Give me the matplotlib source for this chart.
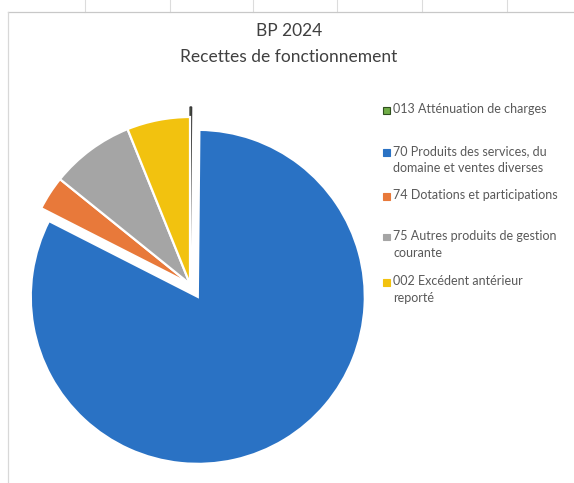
import matplotlib.pyplot as plt
from matplotlib.patches import Rectangle
from matplotlib.lines import Line2D

# BP 2024 - recettes de fonctionnement (parts en %)
labels = ["013 Atténuation de charges",
          "70 Produits des services, du\ndomaine et ventes diverses",
          "74 Dotations et participations",
          "75 Autres produits de gestion\ncourante",
          "002 Excédent antérieur\nreporté"]
values = [0.15, 82.35, 3.3, 8.1, 6.1]
colors = ["#70ad47", "#2a72c4", "#e8793a", "#a5a5a5", "#f2c20f"]
explode = [0.06, 0.09, 0, 0, 0]

plt.rcParams['font.family'] = ['Lato', 'DejaVu Sans']

W, H = 574, 483
fig = plt.figure(figsize=(W / 100, H / 100), dpi=100)
fig.patch.set_facecolor("white")

# spreadsheet frame / grid lines from the scan
for gx in [85, 170, 253, 337, 422, 507]:
    fig.add_artist(Line2D([gx / W, gx / W], [1, 1 - 12 / H], color="#dcdcdc", lw=0.8))
fig.add_artist(Line2D([8 / W, 1], [1 - 12 / H, 1 - 12 / H], color="#c8c8c8", lw=0.9))
fig.add_artist(Line2D([8 / W, 8 / W], [0, 1 - 12 / H], color="#d8d8d8", lw=0.9))

# pie axes: centre at (190, 284) px, radius 167 px
r_px = 167
cx, cy = 190, 284
half = 1.2 * r_px
ax = fig.add_axes([(cx - half) / W, (H - cy - half) / H, 2 * half / W, 2 * half / H])
wedges, _ = ax.pie(values, colors=colors, explode=explode, startangle=90,
                   counterclock=False, radius=1,
                   wedgeprops=dict(edgecolor="white", linewidth=1.6))
wedges[0].set_edgecolor("#3a3a3a")
wedges[0].set_linewidth(1.0)
ax.set_xlim(-1.2, 1.2)
ax.set_ylim(-1.2, 1.2)
ax.set_aspect("equal")
ax.axis("off")

fig.text(289 / W, 1 - 31 / H, "BP 2024", ha="center", va="center",
         fontsize=12.5, color="#404040")
fig.text(289 / W, 1 - 57 / H, "Recettes de fonctionnement", ha="center",
         va="center", fontsize=12.5, color="#404040")

# legend, laid out like the Excel one
leg_y = [110, 152, 196, 237, 282]
for lab, col, y in zip(labels, colors, leg_y):
    fig.add_artist(Rectangle(((386 - 3.5) / W, 1 - (y + 3.5) / H), 7 / W, 7 / H,
                             facecolor=col,
                             edgecolor="#2f4f1f" if col == "#70ad47" else col,
                             lw=0.8))
    fig.text(393 / W, 1 - (y - 7) / H, lab, ha="left", va="top",
             fontsize=9, color="#595959", linespacing=1.5)

fig.savefig("out.png", dpi=100)
